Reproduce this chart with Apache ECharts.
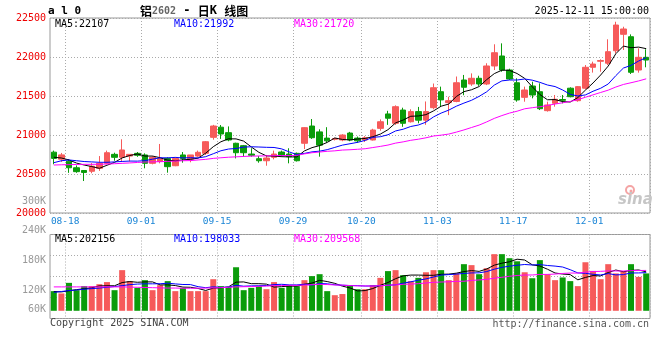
<!DOCTYPE html>
<html><head><meta charset="utf-8">
<script src="https://cdn.jsdelivr.net/npm/echarts@6/dist/echarts.min.js"></script>
<style>html,body{margin:0;padding:0;background:#fff;}#c{width:660px;height:360px;}</style>
</head><body><div id="c"></div>
<script>
const dates = ['08-15','08-18','08-19','08-20','08-21','08-22','08-25','08-26','08-27','08-28','08-29',
'09-01','09-02','09-03','09-04','09-05','09-08','09-09','09-10','09-11','09-12',
'09-15','09-16','09-17','09-18','09-19','09-22','09-23','09-24','09-25','09-26',
'09-29','09-30','10-09','10-10','10-13','10-14','10-15','10-16','10-17',
'10-20','10-21','10-22','10-23','10-24','10-27','10-28','10-29','10-30','10-31',
'11-03','11-04','11-05','11-06','11-07','11-10','11-11','11-12','11-13','11-14',
'11-17','11-18','11-19','11-20','11-21','11-24','11-25','11-26','11-27','11-28',
'12-01','12-02','12-03','12-04','12-05','12-08','12-09','12-10','12-11'];
const dateLabels = ['08-18','09-01','09-15','09-29','10-20','11-03','11-17','12-01'];

const openP = [20780,20690,20665,20580,20545,20535,20573,20637,20752,20714,
20730,20765,20744,20637,20660,20700,20606,20744,20690,20730,
20765,20970,21100,21030,20894,20863,20756,20696,20670,20714,
20782,20756,20765,20894,21115,21040,20960,20945,20936,21025,
20960,20936,20936,21085,21270,21150,21320,21170,21300,21190,
21350,21555,21415,21430,21705,21654,21727,21654,21885,22013,
21833,21670,21483,21628,21555,21312,21406,21455,21600,21440,
21600,21868,21945,21920,22080,22291,22260,21833,21996];
const closeP = [20700,20745,20580,20530,20520,20600,20637,20773,20714,20808,
20752,20740,20637,20714,20700,20594,20700,20700,20744,20778,
20914,21115,21013,20936,20773,20773,20740,20670,20705,20756,
20740,20722,20670,21094,20965,20870,20925,20955,21000,20936,
20925,20965,21064,21170,21215,21363,21150,21300,21190,21300,
21606,21450,21440,21670,21612,21727,21654,21885,22055,21833,
21718,21449,21577,21513,21337,21385,21458,21445,21491,21620,
21868,21910,21955,22068,22410,22359,21804,21996,21961];
const lowP = [20625,20655,20515,20515,20410,20510,20540,20625,20670,20660,
20660,20720,20573,20624,20637,20517,20600,20645,20650,20720,
20744,20940,20950,20920,20700,20722,20722,20645,20606,20688,
20722,20637,20660,20820,20950,20722,20900,20930,20920,20920,
20900,20910,20930,21055,21130,21130,21105,21160,21150,21130,
21330,21360,21255,21420,21510,21630,21630,21640,21833,21811,
21705,21427,21427,21470,21320,21300,21363,21406,21483,21427,
21585,21800,21811,21897,22047,22090,21782,21799,21868];
const highP = [20800,20770,20690,20610,20550,20640,20730,20800,20773,20945,
20756,20782,20765,20730,20885,20714,20714,20782,20744,20800,
20923,21130,21128,21110,20901,20872,20830,20730,20744,20800,
20800,20830,20775,21100,21205,21073,21100,20965,21010,21040,
20980,20985,21080,21200,21310,21380,21350,21330,21360,21430,
21660,21620,21490,21750,21770,21790,21760,21920,22163,22175,
21850,21727,21620,21683,21662,21427,21513,21513,21611,21628,
21897,21940,21970,22227,22452,22388,22290,22111,22099];

const ma5 = [20715,20705,20680,20640,20615,20595,20573,20612,20649,20706,
20737,20757,20730,20730,20709,20677,20669,20682,20688,20703,
20767,20850,20913,20951,20950,20922,20847,20778,20732,20729,
20722,20719,20719,20796,20838,20864,20905,20962,20943,20937,
20948,20956,20978,21012,21068,21155,21192,21240,21244,21261,
21309,21369,21397,21493,21556,21580,21621,21710,21787,21831,
21829,21788,21726,21618,21519,21452,21454,21428,21423,21480,
21576,21667,21769,21884,22042,22140,22119,22127,22107];
const ma10 = [20645,20670,20680,20670,20660,20655,20650,20650,20655,20661,
20666,20665,20671,20690,20708,20707,20713,20706,20709,20706,
20722,20760,20798,20820,20827,20845,20849,20846,20842,20840,
20822,20783,20749,20764,20784,20793,20812,20841,20870,20888,
20906,20931,20970,20978,21003,21052,21074,21109,21128,21165,
21232,21281,21319,21369,21409,21445,21495,21554,21640,21694,
21705,21705,21718,21703,21675,21641,21621,21577,21521,21500,
21514,21561,21599,21654,21761,21858,21893,21948,21992];
const ma30 = [20615,20618,20620,20622,20624,20624,20625,20628,20632,20637,
20642,20648,20654,20656,20658,20662,20666,20670,20672,20680,
20688,20700,20708,20715,20720,20725,20729,20731,20733,20735,
20737,20736,20739,20758,20773,20782,20791,20797,20807,20811,
20817,20824,20839,20854,20871,20896,20912,20932,20946,20964,
20987,20998,21012,21037,21065,21096,21127,21168,21213,21249,
21281,21305,21336,21350,21362,21379,21397,21413,21430,21453,
21484,21515,21545,21575,21615,21648,21670,21693,21720];

// volumes in thousands of lots
const volumeK = [102,90,145,107,128,128,138,149,107,211,
154,119,159,107,133,154,102,119,102,102,
102,164,128,124,226,107,119,128,112,149,
119,133,128,159,180,190,102,81,87,133,
112,112,133,171,206,211,185,154,171,200,
211,211,159,195,242,237,190,221,294,294,
273,257,200,169,263,190,159,173,154,128,
252,207,164,242,194,206,242,176,194];
const volMa5K = [100,98,104,110,114.4,119.6,129.2,130,130,146.6,
151.8,148,150,150,134.4,134.4,131,123,122,115.8,
105.4,117.8,119.6,124,148.8,149.8,140.8,140.8,138.4,123,
125.4,128.2,128.2,137.6,143.8,158,151.8,142.4,128,118.6,
103,105,115.4,132.2,146.8,166.6,181.2,185.4,185.4,184.2,
184.2,189.4,190.4,195.2,203.6,208.8,204.6,217,236.8,247.2,
254.4,267.8,263.6,238.6,232.4,215.8,196.2,190.8,187.8,160.8,
173.2,182.8,181,198.6,211.8,202.6,209.6,212,202.156];
const volMa10K = [96,100,105,108,112,115,118,122,126,130.5,
135.7,138.6,140,140,140.5,143.1,139.5,136.5,136,125.1,
119.9,124.4,121.3,123,132.3,127.6,129.3,130.2,131.2,135.9,
137.6,134.5,134.5,138,133.4,141.7,140,135.3,132.8,131.2,
130.5,128.4,128.9,130.1,132.7,134.8,143.1,150.4,158.8,165.5,
175.4,185.3,187.9,190.3,193.9,196.5,197,203.7,216,225.4,
231.6,236.2,240.3,237.7,239.8,235.1,232,227.2,213.2,196.6,
194.5,189.5,185.9,193.2,186.3,187.9,196.2,196.5,198.033];
const volMa30K = [124,124,124,124,124,124,124,124,124,124,
123,122,121,120,119,118,118,117,117,117,
118,119,120,122,124,125,126,127,128,130.5,
131.1,132.5,131.9,133.7,135.4,137.5,136.3,134,133.3,130.7,
129.3,129.1,128.2,130.4,132.8,134.7,137.5,138.6,140.9,144.2,
147.8,149.4,150.4,152.8,153.3,157.7,160,163.1,169.2,174,
179.2,183.3,185.7,186,188.8,188.8,190.7,193.8,196,195.8,
200.5,203.7,204.7,207.1,206.7,206.5,208.4,209.1,209.568];

const priceAxis = {min: 20000, max: 22500, step: 500};
const volLabelAxis = {min: 60000, max: 300000, step: 60000};

const RED = '#f65a5a', GREEN = '#0a9c0a';
const MONO = '"DejaVu Sans Mono", monospace';
const CJK = '"Noto Sans CJK SC", sans-serif';
const k = v => Math.round(v * 1000);
const last = a => a[a.length - 1];
const isLabelDay = i => dateLabels.indexOf(dates[i]) >= 0;
const dotted = {show: true, lineStyle: {color: '#aaa', type: [1, 2], width: 1}};

const candleData = dates.map((d, i) => [openP[i], closeP[i], lowP[i], highP[i]]);
const volData = volumeK.map((v, i) => ({value: k(v), itemStyle: {color: closeP[i] >= openP[i] ? RED : GREEN}}));

const chart = echarts.init(document.getElementById('c'), null, {renderer: 'canvas', width: 660, height: 360});
const lbl = (text, left, top, color, extra) => Object.assign({text, left, top, padding: 0,
  textStyle: {fontFamily: MONO, fontSize: 10, fontWeight: 'normal', color, lineHeight: 12}}, extra || {});

chart.setOption({
  animation: false,
  backgroundColor: '#fff',
  title: [
    {text: 'a l 0', left: 48, top: 4, padding: 0, textStyle: {fontFamily: MONO, fontSize: 11, fontWeight: 'bold', color: '#000', lineHeight: 14}},
    {text: '{c|铝}{g|2602}{a| - }{c|日}{k|K}{a| }{c|线图}', left: 140, top: 4, padding: 0,
     textStyle: {rich: {
       c: {fontFamily: CJK, fontSize: 12, color: '#000', lineHeight: 14},
       g: {fontFamily: MONO, fontSize: 10, color: '#666', lineHeight: 14},
       a: {fontFamily: MONO, fontSize: 12, color: '#000', lineHeight: 14},
       k: {fontFamily: MONO, fontSize: 12, fontWeight: 'bold', color: '#000', lineHeight: 14}}}},
    lbl('2025-12-11 15:00:00', null, 5, '#000', {right: 11, left: undefined}),
    lbl('MA5:' + last(ma5), 55, 18, '#000'),
    lbl('MA10:' + last(ma10), 174, 18, '#0000ff'),
    lbl('MA30:' + last(ma30), 294, 18, '#ff00ff'),
    lbl('MA5:' + k(last(volMa5K)), 55, 233, '#000'),
    lbl('MA10:' + k(last(volMa10K)), 174, 233, '#0000ff'),
    lbl('MA30:' + k(last(volMa30K)), 294, 233, '#ff00ff'),
    lbl('Copyright 2025 SINA.COM', 50, 317, '#444'),
    lbl('http://finance.sina.com.cn', null, 318, '#555', {right: 11, left: undefined})
  ],
  grid: [
    {left: 50, top: 18, width: 600, height: 195, show: true, borderColor: '#999', borderWidth: 1, backgroundColor: 'transparent'},
    {left: 50, top: 234.5, width: 600, height: 84, show: true, borderColor: '#999', borderWidth: 1, backgroundColor: 'transparent'},
    {left: 50, top: 201, width: 600, height: 119, show: false}
  ],
  xAxis: [
    {type: 'category', gridIndex: 0, data: dates, boundaryGap: true,
     axisLine: {show: false}, axisTick: {show: false},
     axisLabel: {interval: (i) => isLabelDay(i), margin: 4, formatter: v => '{t|' + v + '}',
       rich: {t: {padding: [0, 0, 0, 7.6], color: '#1a85d6', fontFamily: MONO, fontSize: 9.5}}},
     splitLine: Object.assign({}, dotted, {interval: (i) => i > 0 && isLabelDay(i - 1)})},
    {type: 'category', gridIndex: 1, data: dates, boundaryGap: true,
     axisLine: {show: false}, axisTick: {show: false}, axisLabel: {show: false},
     splitLine: Object.assign({}, dotted, {interval: (i) => i > 0 && isLabelDay(i - 1)})},
    {type: 'category', gridIndex: 2, data: dates, show: false}
  ],
  yAxis: [
    {type: 'value', gridIndex: 0, min: priceAxis.min, max: priceAxis.max, interval: priceAxis.step,
     axisLine: {show: false}, axisTick: {show: false}, splitLine: dotted,
     axisLabel: {color: '#ee0000', fontFamily: MONO, fontSize: 10, margin: 4, padding: [0, 0, 4, 0],
       formatter: v => String(v)}},
    {type: 'value', gridIndex: 1, min: -40000, max: 396000, interval: 109000,
     axisLine: {show: false}, axisTick: {show: false}, axisLabel: {show: false}, splitLine: dotted},
    {type: 'value', gridIndex: 2, min: volLabelAxis.min, max: volLabelAxis.max, interval: volLabelAxis.step,
     axisLine: {show: false}, axisTick: {show: false}, splitLine: {show: false},
     axisLabel: {color: '#999', fontFamily: MONO, fontSize: 10, margin: 4,
       formatter: v => v === volLabelAxis.min ? '{low|' + (v / 1000) + 'K}' : (v / 1000) + 'K',
       rich: {low: {padding: [0, 0, 21, 0], color: '#999', fontFamily: MONO, fontSize: 10}}}}
  ],
  graphic: [
    {type: 'circle', shape: {cx: 630, cy: 190, r: 4}, style: {fill: 'none', stroke: '#f4a4a4', lineWidth: 2}, z: 1},
    {type: 'circle', shape: {cx: 631, cy: 191, r: 1.5}, style: {fill: '#f4a4a4'}, z: 1},
    {type: 'text', x: 618, y: 193, style: {text: 'sina', font: 'italic bold 15px "DejaVu Sans"', fill: '#c6c6c6'}, z: 1}
  ],
  series: [
    {type: 'candlestick', xAxisIndex: 0, yAxisIndex: 0, data: candleData, barWidth: 6,
     itemStyle: {color: RED, color0: GREEN, borderColor: RED, borderColor0: GREEN, borderWidth: 1}},
    {type: 'line', xAxisIndex: 0, yAxisIndex: 0, data: ma5, symbol: 'none', lineStyle: {color: '#000', width: 1}},
    {type: 'line', xAxisIndex: 0, yAxisIndex: 0, data: ma10, symbol: 'none', lineStyle: {color: '#0000ff', width: 1}},
    {type: 'line', xAxisIndex: 0, yAxisIndex: 0, data: ma30, symbol: 'none', lineStyle: {color: '#ff00ff', width: 1}},
    {type: 'bar', xAxisIndex: 1, yAxisIndex: 1, data: volData, barWidth: 6},
    {type: 'line', xAxisIndex: 1, yAxisIndex: 1, data: volMa5K.map(k), symbol: 'none', lineStyle: {color: '#000', width: 1}},
    {type: 'line', xAxisIndex: 1, yAxisIndex: 1, data: volMa10K.map(k), symbol: 'none', lineStyle: {color: '#0000ff', width: 1}},
    {type: 'line', xAxisIndex: 1, yAxisIndex: 1, data: volMa30K.map(k), symbol: 'none', lineStyle: {color: '#ff00ff', width: 1}},
    {type: 'line', xAxisIndex: 2, yAxisIndex: 2, data: [], symbol: 'none'}
  ]
});
</script></body></html>
